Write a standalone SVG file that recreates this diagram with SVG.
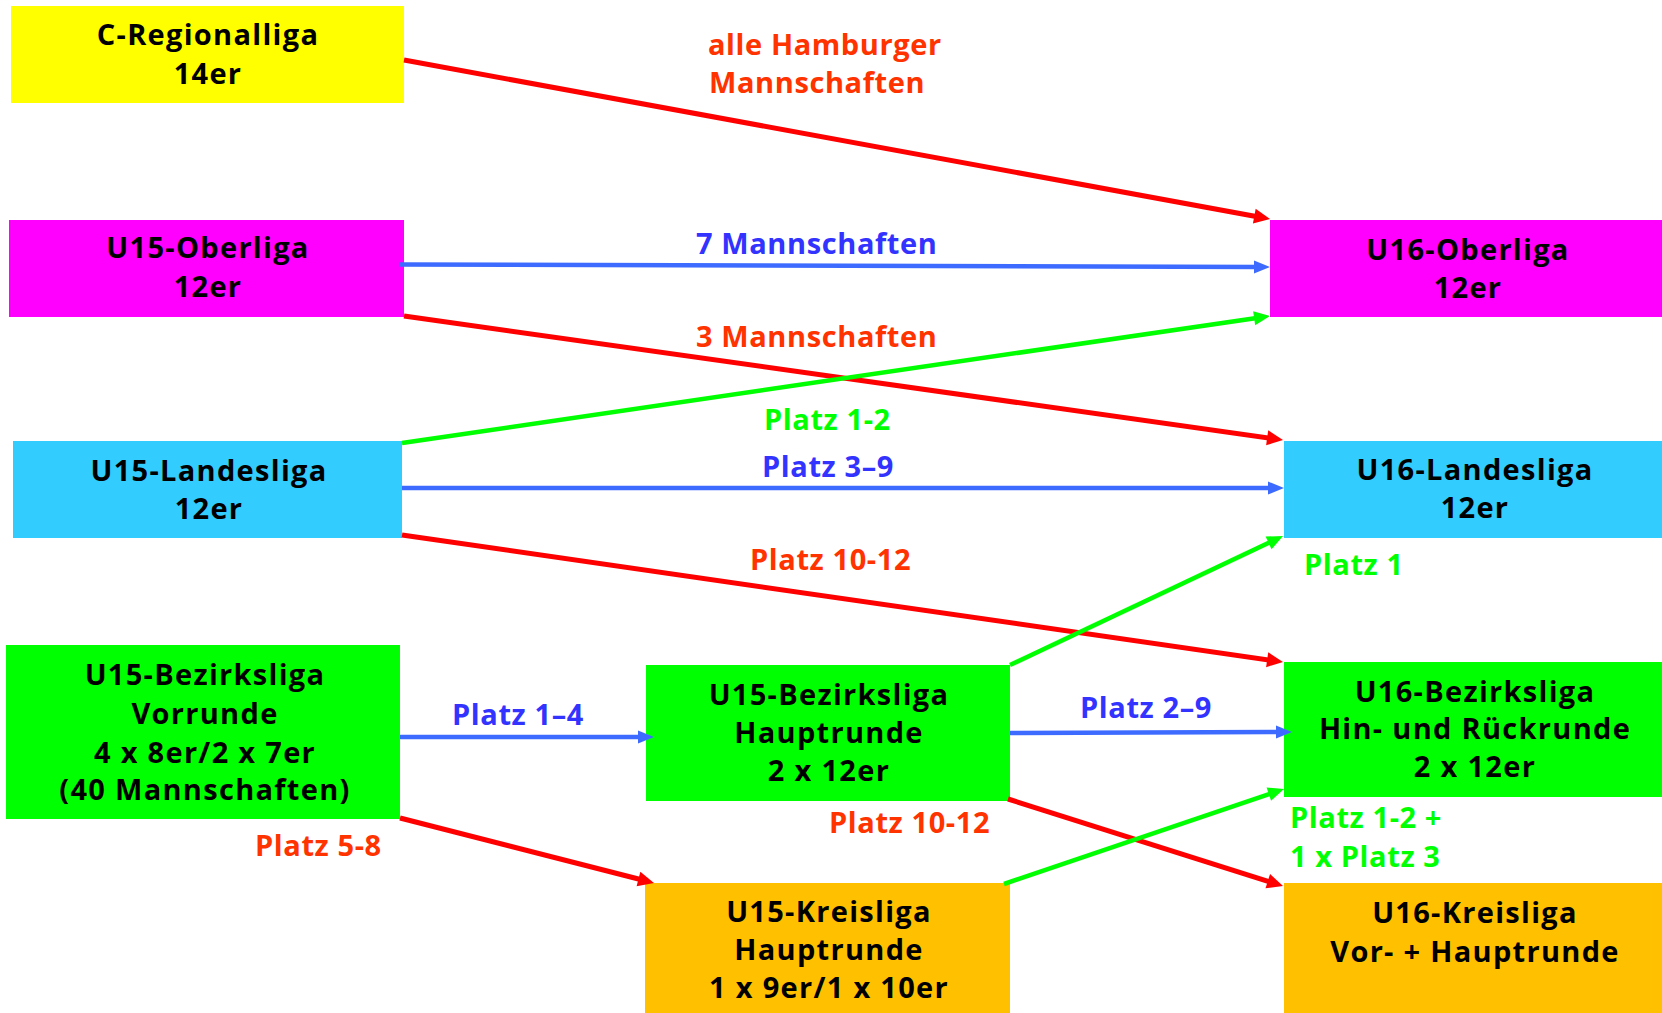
<svg xmlns="http://www.w3.org/2000/svg" width="1662" height="1013" viewBox="0 0 1662 1013">
<style>
.nt{font-family:"Open Sans","Liberation Sans",sans-serif;font-weight:bold;font-size:29px;letter-spacing:1.3px;fill:#000;text-anchor:middle}
.lb{font-family:"Open Sans","Liberation Sans",sans-serif;font-weight:bold;font-size:29px;letter-spacing:0.6px}
.r{fill:#FF3300}.b{fill:#3333FF}.g{fill:#00FF00}
.lr{stroke:#FF0000;stroke-width:5;fill:none;marker-end:url(#ar)}
.lbl{stroke:#3D6BFF;stroke-width:4.5;fill:none;marker-end:url(#ab)}
.lg{stroke:#00FF00;stroke-width:4.5;fill:none;marker-end:url(#ag)}
</style>
<defs>
<marker id="ar" markerUnits="userSpaceOnUse" markerWidth="16" markerHeight="15" refX="6" refY="7.5" orient="auto" overflow="visible"><path d="M0,0 L16,7.5 L0,15 z" fill="#FF0000"/></marker>
<marker id="ab" markerUnits="userSpaceOnUse" markerWidth="16" markerHeight="13" refX="6" refY="6.5" orient="auto" overflow="visible"><path d="M0,0 L16,6.5 L0,13 z" fill="#3D6BFF"/></marker>
<marker id="ag" markerUnits="userSpaceOnUse" markerWidth="16" markerHeight="14" refX="6" refY="7" orient="auto" overflow="visible"><path d="M0,0 L16,7 L0,14 z" fill="#00FF00"/></marker>
</defs>
<rect width="1662" height="1013" fill="#fff"/>
<g id="n-cregio"><rect x="11" y="6" width="393" height="97" fill="#FFFF00"/><text class="nt" x="208" y="45">C-Regionalliga</text><text class="nt" x="208" y="84">14er</text></g>
<g id="n-u15ober"><rect x="9" y="220" width="395" height="97" fill="#FF00FF"/><text class="nt" x="208" y="258">U15-Oberliga</text><text class="nt" x="208" y="297">12er</text></g>
<g id="n-u15land"><rect x="13" y="441" width="389" height="97" fill="#33CCFF"/><text class="nt" x="209" y="481">U15-Landesliga</text><text class="nt" x="209" y="519">12er</text></g>
<g id="n-u15bezv"><rect x="6" y="645" width="394" height="174" fill="#00FF00"/><text class="nt" x="205" y="685">U15-Bezirksliga</text><text class="nt" x="205" y="724">Vorrunde</text><text class="nt" x="205" y="763">4 x 8er/2 x 7er</text><text class="nt" x="205" y="800">(40 Mannschaften)</text></g>
<g id="n-u15bezh"><rect x="646" y="665" width="364" height="136" fill="#00FF00"/><text class="nt" x="829" y="705">U15-Bezirksliga</text><text class="nt" x="829" y="743">Hauptrunde</text><text class="nt" x="829" y="781">2 x 12er</text></g>
<g id="n-u15kreis"><rect x="645" y="883" width="365" height="130" fill="#FFC000"/><text class="nt" x="829" y="922">U15-Kreisliga</text><text class="nt" x="829" y="960">Hauptrunde</text><text class="nt" x="829" y="998">1 x 9er/1 x 10er</text></g>
<g id="n-u16ober"><rect x="1270" y="220" width="392" height="97" fill="#FF00FF"/><text class="nt" x="1468" y="260">U16-Oberliga</text><text class="nt" x="1468" y="298">12er</text></g>
<g id="n-u16land"><rect x="1284" y="441" width="378" height="97" fill="#33CCFF"/><text class="nt" x="1475" y="480">U16-Landesliga</text><text class="nt" x="1475" y="518">12er</text></g>
<g id="n-u16bez"><rect x="1284" y="662" width="378" height="135" fill="#00FF00"/><text class="nt" x="1475" y="702">U16-Bezirksliga</text><text class="nt" x="1475" y="739">Hin- und Rückrunde</text><text class="nt" x="1475" y="777">2 x 12er</text></g>
<g id="n-u16kreis"><rect x="1284" y="883" width="378" height="130" fill="#FFC000"/><text class="nt" x="1475" y="923">U16-Kreisliga</text><text class="nt" x="1475" y="962">Vor- + Hauptrunde</text></g>
<g id="connectors">
<line class="lr" x1="404" y1="60" x2="1260.2" y2="217.2"/>
<line class="lbl" x1="400" y1="264.5" x2="1260" y2="267"/>
<line class="lr" x1="404" y1="316" x2="1273.1" y2="438.6"/>
<line class="lg" x1="402" y1="443" x2="1260.1" y2="317.4"/>
<line class="lbl" x1="402" y1="488" x2="1274" y2="488"/>
<line class="lr" x1="402" y1="535" x2="1273.1" y2="660.6"/>
<line class="lbl" x1="400" y1="737" x2="644" y2="737"/>
<line class="lr" x1="400" y1="818" x2="644.3" y2="880.5"/>
<line class="lg" x1="1010" y1="665" x2="1274" y2="540.3"/>
<line class="lbl" x1="1010" y1="733" x2="1282" y2="732"/>
<line class="lr" x1="1008" y1="799" x2="1273.5" y2="883"/>
<line class="lg" x1="1004" y1="884" x2="1274.5" y2="792.2"/>
<text class="lb r" x="708" y="55">alle Hamburger</text>
<text class="lb r" x="709" y="93">Mannschaften</text>
<text class="lb b" x="696" y="254">7 Mannschaften</text>
<text class="lb r" x="696" y="347">3 Mannschaften</text>
<text class="lb g" x="764" y="430">Platz 1-2</text>
<text class="lb b" x="762" y="477">Platz 3–9</text>
<text class="lb r" x="750" y="570">Platz 10-12</text>
<text class="lb g" x="1304" y="575">Platz 1</text>
<text class="lb b" x="452" y="725">Platz 1–4</text>
<text class="lb b" x="1080" y="718">Platz 2–9</text>
<text class="lb r" x="829" y="833">Platz 10-12</text>
<text class="lb r" x="255" y="856">Platz 5-8</text>
<text class="lb g" x="1290" y="828">Platz 1-2 +</text>
<text class="lb g" x="1290" y="867">1 x Platz 3</text>
</g>
</svg>
